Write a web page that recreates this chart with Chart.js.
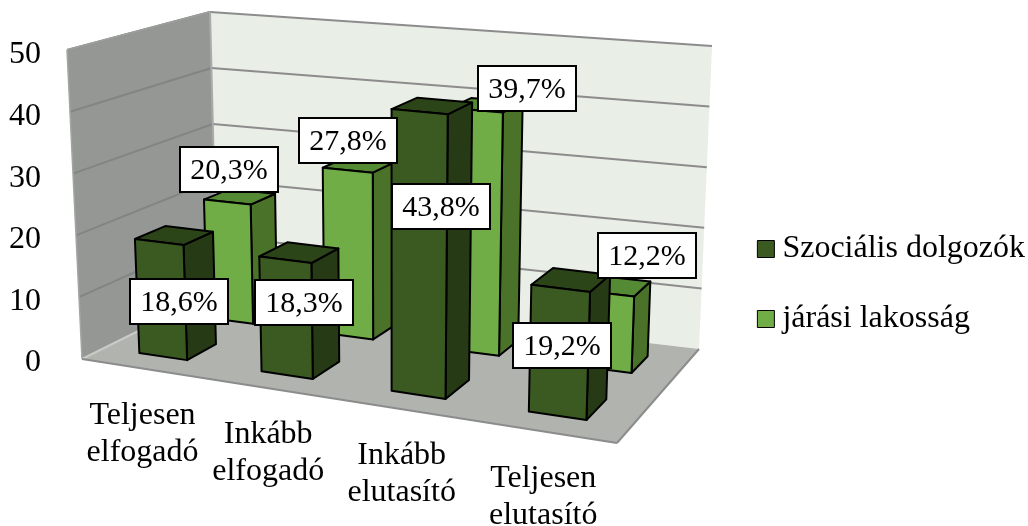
<!DOCTYPE html>
<html><head><meta charset="utf-8">
<style>html,body{margin:0;padding:0;background:#fff}#w{width:1028px;height:526px}</style>
<script src="https://cdn.jsdelivr.net/npm/chart.js@4"></script>
</head><body><div id="w"><canvas id="c" width="1028" height="526"></canvas></div>
<script>
const categories = [['Teljesen','elfogadó'],['Inkább','elfogadó'],['Inkább','elutasító'],['Teljesen','elutasító']];
const seriesNames = ['Szociális dolgozók','járási lakosság'];
const szocialis = [18.6,18.3,43.8,19.2];
const jarasi = [20.3,27.8,39.7,12.2];
const axisMax = 50;
const axisStep = 10;

// view of the 3-D box: corners as screen positions (front-left, front-right, back-right, back-left)
const FLOOR = [[82,359],[617,443],[699,349],[217,292]];
const CEIL  = [[67,50],[628,100],[712,46],[210,12]];
const FONT = '"Liberation Serif"';
const FS = 32;
const LABEL_FS = 30;
const ROWS = [{v0:.15,v1:.36,front:'#3A5A22',top:'#2C4518',side:'#263A15'},
              {v0:.65,v1:.85,front:'#70AD47',top:'#558A35',side:'#4B7229'}];
// label box displacement from the bar's front-face anchor
const NUDGE = [[[18,2],[18,-15],[22,-47],[3,-7]],[[2,-33],[0,-30],[51,-22],[40,-38]]];

function homography(q){
  const [[x0,y0],[x1,y1],[x2,y2],[x3,y3]]=q;
  const sx=x0-x1+x2-x3, sy=y0-y1+y2-y3, dx1=x1-x2, dx2=x3-x2, dy1=y1-y2, dy2=y3-y2;
  const den=dx1*dy2-dx2*dy1, g=(sx*dy2-dx2*sy)/den, h=(dx1*sy-sx*dy1)/den;
  return {a:x1-x0+g*x1,b:x3-x0+h*x3,c:x0,d:y1-y0+g*y1,e:y3-y0+h*y3,f:y0,g,h};
}
const HF=homography(FLOOR), HC=homography(CEIL);
function ap(H,u,v){const w=H.g*u+H.h*v+1;return [(H.a*u+H.b*v+H.c)/w,(H.d*u+H.e*v+H.f)/w];}
function project(u,h,v){
  const uu=u+0.024*Math.sin(Math.PI*u);
  const p=ap(HF,uu,v), q=ap(HC,uu,v);
  return [p[0]+(q[0]-p[0])*h,p[1]+(q[1]-p[1])*h];
}
function poly(ctx,pts,fill,stroke,lw){
  ctx.beginPath();pts.forEach((p,i)=>i?ctx.lineTo(p[0],p[1]):ctx.moveTo(p[0],p[1]));ctx.closePath();
  if(fill){ctx.fillStyle=fill;ctx.fill();}
  if(stroke){ctx.strokeStyle=stroke;ctx.lineWidth=lw;ctx.lineJoin='round';ctx.stroke();}
}
function seg(ctx,a,b,color,lw){ctx.beginPath();ctx.moveTo(a[0],a[1]);ctx.lineTo(b[0],b[1]);ctx.strokeStyle=color;ctx.lineWidth=lw;ctx.stroke();}

const box3d={
  id:'box3d',
  afterLayout(chart){
    const l=chart.legend;
    l.left+=7;l.right+=7;l.top+=2;l.bottom+=2;
  },
  beforeDatasetDraw(){return false;},
  beforeDatasetsDraw(chart){
    const ctx=chart.ctx,xs=chart.scales.x,ys=chart.scales.y;
    const hOf=v=>(ys.bottom-ys.getPixelForValue(v))/(ys.bottom-ys.top);
    ctx.save();
    poly(ctx,[project(0,0,0),project(0,1,0),project(0,1,1),project(0,0,1)],'#949794');
    poly(ctx,[project(0,0,1),project(0,1,1),project(1,1,1),project(1,0,1)],'#E9EEE7');
    poly(ctx,[project(0,0,0),project(1,0,0),project(1,0,1),project(0,0,1)],'#B0B3AE');
    ys.ticks.forEach(t=>{
      const h=hOf(t.value);
      if(t.value>0) seg(ctx,project(0,h,1),project(1,h,1),'#8C8C8C',2);
      if(t.value>0) seg(ctx,project(0,h,0),project(0,h,1),'#828582',2);
    });
    seg(ctx,project(0,1,0),project(0,1,1),'#9B9E9B',2);
    seg(ctx,project(0,0,0),project(0,1,0),'#A3A6A3',1.5);
    seg(ctx,project(0,0,1),project(0,1,1),'#A9ABA9',2);
    seg(ctx,project(0,0,0),project(0,0,1),'#C9CBC7',2);
    seg(ctx,project(0,0,0),project(1,0,0),'#8C8C8C',2);
    seg(ctx,project(1,0,0),project(1,0,1),'#8C8C8C',2);
    // rows from back to front, each bar through the chart's own elements
    [1,0].forEach(ds=>{
      const meta=chart.getDatasetMeta(ds), r=ROWS[ds];
      meta.data.forEach(el=>{
        const ua=(el.x-el.width/2-xs.left)/xs.width, ub=(el.x+el.width/2-xs.left)/xs.width;
        const h=(ys.bottom-el.y)/(ys.bottom-ys.top);
        const P=(u,hh,v)=>project(u,hh,v);
        poly(ctx,[P(ub,0,r.v0),P(ub,h,r.v0),P(ub,h,r.v1),P(ub,0,r.v1)],r.side,'#000',2);
        poly(ctx,[P(ua,h,r.v0),P(ub,h,r.v0),P(ub,h,r.v1),P(ua,h,r.v1)],r.top,'#000',2);
        poly(ctx,[P(ua,0,r.v0),P(ub,0,r.v0),P(ub,h,r.v0),P(ua,h,r.v0)],r.front,'#000',2);
      });
    });
    ctx.restore();
  },
  afterDatasetsDraw(chart){
    const ctx=chart.ctx,xs=chart.scales.x,ys=chart.scales.y;
    ctx.save();
    ctx.font=LABEL_FS+'px '+FONT;ctx.textAlign='center';ctx.textBaseline='middle';
    chart.data.datasets.forEach((d,ds)=>{
      const meta=chart.getDatasetMeta(ds), r=ROWS[ds];
      meta.data.forEach((el,i)=>{
        const u=(el.x-xs.left)/xs.width, h=(ys.bottom-el.y)/(ys.bottom-ys.top);
        const a=project(u,ds===0?h/2:h,r.v0);
        const cx=Math.round(a[0]+NUDGE[ds][i][0]), cy=Math.round(a[1]+NUDGE[ds][i][1]);
        ctx.fillStyle='#fff';ctx.strokeStyle='#000';ctx.lineWidth=2;
        ctx.fillRect(cx-49,cy-22,98,45);ctx.strokeRect(cx-49,cy-22,98,45);
        ctx.fillStyle='#000';
        ctx.fillText(d.data[i].toFixed(1).replace('.',',')+'%',cx,cy+2);
      });
    });
    // category labels follow the front edge of the floor
    ctx.font=FS+'px '+FONT;ctx.textBaseline='middle';
    chart.data.labels.forEach((lab,i)=>{
      const u=(xs.getPixelForValue(i)-xs.left)/xs.width, a=project(u,0,0);
      lab.forEach((line,k)=>ctx.fillText(line,a[0]+1.5,a[1]+47+k*37));
    });
    ctx.restore();
  }
};

new Chart(document.getElementById('c'),{
  type:'bar',
  data:{labels:categories,datasets:[
    {label:seriesNames[0],data:szocialis,backgroundColor:ROWS[0].front,borderColor:'#000',borderWidth:1},
    {label:seriesNames[1],data:jarasi,backgroundColor:ROWS[1].front,borderColor:'#000',borderWidth:1}
  ]},
  options:{
    responsive:false,animation:false,
    layout:{padding:{left:9,right:0,top:55,bottom:155}},
    datasets:{bar:{grouped:false,barPercentage:.4,categoryPercentage:1}},
    plugins:{
      tooltip:{enabled:false},
      legend:{position:'right',align:'end',maxWidth:400,
        labels:{usePointStyle:true,pointStyle:'rect',boxWidth:1,boxHeight:17,padding:38,color:'#000',
          font:{family:FONT,size:FS}}}
    },
    scales:{
      x:{display:true,grid:{display:false},border:{display:false},ticks:{display:false}},
      y:{min:0,max:axisMax,grid:{display:false},border:{display:false},
        ticks:{stepSize:axisStep,padding:0,color:'#000',font:{family:FONT,size:FS}}}
    }
  },
  plugins:[box3d]
});
</script></body></html>
